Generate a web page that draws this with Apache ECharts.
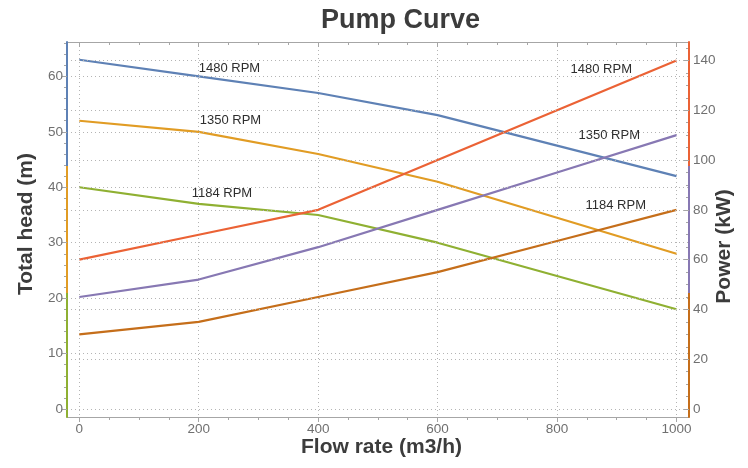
<!DOCTYPE html>
<html>
<head>
<meta charset="utf-8">
<script src="https://cdn.jsdelivr.net/npm/echarts@6/dist/echarts.min.js"></script>
<style>
html,body{margin:0;padding:0;background:#fff;}
#chart{width:748px;height:468px;}
</style>
</head>
<body>
<div id="chart"></div>
<script>
// ---- data ----
const flow = [0, 200, 400, 600, 800, 1000];
const head1480 = [63, 60, 57, 53, 47.5, 42];
const head1350 = [52, 50, 46, 41, 34.5, 28];
const head1184 = [40, 37, 35, 30, 24, 18];
const power1480 = [60, 70, 80, 100, 120, 140];
const power1350 = [45, 52, 65, 80, 95, 110];
const power1184 = [30, 35, 45, 55, 67.5, 80];
const speedLabels = ['1480 RPM', '1350 RPM', '1184 RPM'];
const flowTicks = [0, 200, 400, 600, 800, 1000];
const headTicks = [0, 10, 20, 30, 40, 50, 60];
const powerTicks = [0, 20, 40, 60, 80, 100, 120, 140];

// ---- styling ----
const C = {
  blue: '#5E81B5', orange: '#E19C24', green: '#8FB032',
  red: '#EB6235', purple: '#8778B3', brown: '#C56E1A'
};
const FONT = 'Liberation Sans, Arial, sans-serif';
const gridLine = { show: true, lineStyle: { color: '#b4b4b4', type: [1, 3], width: 1 } };
const frameColor = '#a6a6a6';
const tickLabel = { color: '#707070', fontSize: 13.5, fontFamily: FONT, formatter: v => String(v) };

function minorValues(step, majorStep, max) {
  const out = [];
  for (let v = 0; v <= max + 1e-9; v += step) {
    if (Math.abs(v / majorStep - Math.round(v / majorStep)) > 1e-6) out.push(v);
  }
  return out;
}

const xMin = -20.6, xMax = 1021;
const hMin = -1.44, hMax = 66.2;
const pMin = -3.2, pMax = 147.4;

function segGradient(colors) {
  return {
    type: 'linear', x: 0, y: 0, x2: 0, y2: 1,
    colorStops: [
      { offset: 0, color: colors[0] }, { offset: 0.3333, color: colors[0] },
      { offset: 0.3334, color: colors[1] }, { offset: 0.6666, color: colors[1] },
      { offset: 0.6667, color: colors[2] }, { offset: 1, color: colors[2] }
    ]
  };
}

function mkSeries(name, vals, color, yIdx, labelIdx, labelCfg) {
  return {
    name: name, type: 'line', yAxisIndex: yIdx, xAxisIndex: 0,
    symbol: 'circle', symbolSize: 1, showSymbol: true,
    itemStyle: { color: 'rgba(0,0,0,0)' },
    lineStyle: { color: color, width: 2.2 },
    emphasis: { disabled: true },
    z: 5,
    data: flow.map((x, i) => {
      const item = { value: [x, vals[i]] };
      if (i === labelIdx) {
        item.label = Object.assign({
          show: true, color: '#2e2e2e', fontSize: 13, fontFamily: FONT,
          formatter: name
        }, labelCfg);
      }
      return item;
    })
  };
}

const chart = echarts.init(document.getElementById('chart'), null, { renderer: 'canvas' });

const noZeroLine = (o) => Object.assign({ onZero: false }, o);

const option = {
  animation: false,
  backgroundColor: '#fff',
  title: {
    text: 'Pump Curve', left: 316, top: 2,
    textStyle: { fontSize: 27, fontWeight: 'bold', color: '#3c3c3c', fontFamily: FONT }
  },
  grid: { left: 67, right: 59, top: 42, bottom: 51, containLabel: false, outerBoundsMode: 'none' },
  xAxis: [
    {
      type: 'value', position: 'bottom', min: xMin, max: xMax,
      axisLine: noZeroLine({ show: true, lineStyle: { color: frameColor, width: 1 } }),
      axisTick: { show: true, customValues: flowTicks, length: 5, inside: false, lineStyle: { color: frameColor } },
      axisLabel: Object.assign({ customValues: flowTicks, margin: 5 }, tickLabel),
      splitLine: gridLine,
      name: 'Flow rate (m3/h)', nameLocation: 'middle', nameGap: 20, nameMoveOverlap: false,
      nameTextStyle: { fontSize: 21, fontWeight: 'bold', color: '#3c3c3c', fontFamily: FONT, padding: [0, 0, 0, 7] }
    },
    {
      type: 'value', position: 'bottom', min: xMin, max: xMax,
      axisLine: noZeroLine({ show: false }),
      axisTick: { show: true, customValues: minorValues(50, 200, 1000), length: 3, inside: false, lineStyle: { color: frameColor } },
      axisLabel: { show: false }, splitLine: { show: false }
    },
    {
      type: 'value', position: 'top', min: xMin, max: xMax,
      axisLine: noZeroLine({ show: true, lineStyle: { color: frameColor, width: 1 } }),
      axisTick: { show: true, customValues: flowTicks, length: 5, inside: true, lineStyle: { color: frameColor } },
      axisLabel: { show: false }, splitLine: { show: false }
    },
    {
      type: 'value', position: 'top', min: xMin, max: xMax,
      axisLine: noZeroLine({ show: false }),
      axisTick: { show: true, customValues: minorValues(50, 200, 1000), length: 3, inside: true, lineStyle: { color: frameColor } },
      axisLabel: { show: false }, splitLine: { show: false }
    }
  ],
  yAxis: [
    {
      type: 'value', position: 'left', min: hMin, max: hMax,
      axisLine: noZeroLine({ show: true, lineStyle: { color: segGradient([C.blue, C.orange, C.green]), width: 2 } }),
      axisTick: { show: true, customValues: headTicks, length: 5, inside: false, lineStyle: { color: frameColor } },
      axisLabel: Object.assign({ customValues: headTicks, margin: 4 }, tickLabel),
      splitLine: gridLine,
      name: 'Total head (m)', nameLocation: 'middle', nameGap: 30,
      nameTextStyle: { fontSize: 21, fontWeight: 'bold', color: '#3c3c3c', fontFamily: FONT, padding: [0, 0, 0, 11] },
      z: 6
    },
    {
      type: 'value', position: 'left', min: hMin, max: hMax,
      axisLine: noZeroLine({ show: false }),
      axisTick: { show: true, customValues: minorValues(2, 10, 66), length: 3, inside: false, lineStyle: { color: frameColor } },
      axisLabel: { show: false }, splitLine: { show: false }
    },
    {
      type: 'value', position: 'right', min: pMin, max: pMax,
      axisLine: noZeroLine({ show: true, lineStyle: { color: segGradient([C.red, C.purple, C.brown]), width: 2 } }),
      axisTick: { show: true, customValues: powerTicks, length: 5, inside: true, lineStyle: { color: frameColor } },
      axisLabel: Object.assign({ customValues: powerTicks, margin: 4 }, tickLabel),
      splitLine: gridLine,
      name: 'Power (kW)', nameLocation: 'middle', nameGap: 25, nameMoveOverlap: false,
      nameTextStyle: { fontSize: 21, fontWeight: 'bold', color: '#3c3c3c', fontFamily: FONT, padding: [0, 34, 0, 0] },
      z: 6
    },
    {
      type: 'value', position: 'right', min: pMin, max: pMax,
      axisLine: noZeroLine({ show: false }),
      axisTick: { show: true, customValues: minorValues(5, 20, 145), length: 3, inside: true, lineStyle: { color: frameColor } },
      axisLabel: { show: false }, splitLine: { show: false }
    }
  ],
  series: [
    mkSeries(speedLabels[0], head1480, C.blue, 0, 1, { position: 'top', align: 'left', distance: 1, offset: [0, 0] }),
    mkSeries(speedLabels[1], head1350, C.orange, 0, 1, { position: 'top', align: 'left', distance: 4, offset: [1, 0] }),
    mkSeries(speedLabels[2], head1184, C.green, 0, 1, { position: 'top', align: 'left', distance: 3, offset: [-7, 0] }),
    mkSeries(speedLabels[0], power1480, C.red, 2, 5, { position: 'left', distance: 44, offset: [0, 9] }),
    mkSeries(speedLabels[1], power1350, C.purple, 2, 5, { position: 'left', distance: 36, offset: [0, 0] }),
    mkSeries(speedLabels[2], power1184, C.brown, 2, 5, { position: 'left', distance: 30, offset: [0, -4] })
  ]
};
chart.setOption(option);
</script>
</body>
</html>
